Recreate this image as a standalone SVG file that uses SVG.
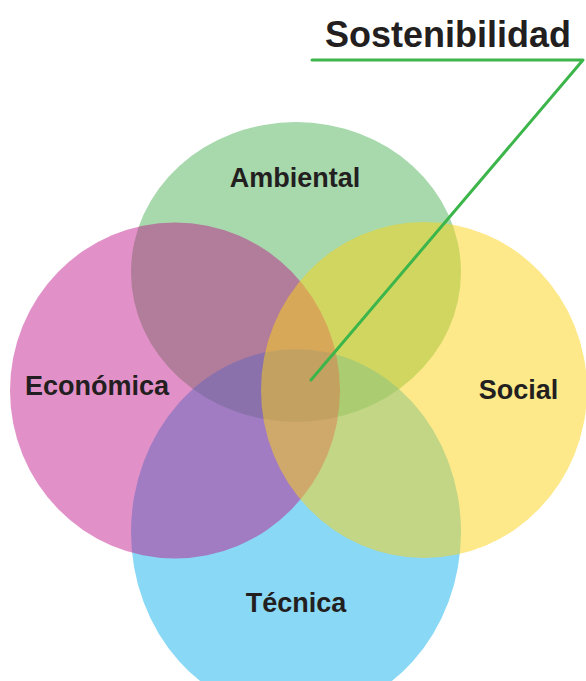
<svg xmlns="http://www.w3.org/2000/svg" width="586" height="681" viewBox="0 0 586 681">
<style>
.lbl{font-family:"Liberation Sans",Arial,sans-serif;font-weight:bold;font-size:27px;fill:#231f20;text-anchor:middle}
.title{font-family:"Liberation Sans",Arial,sans-serif;font-weight:bold;font-size:37px;fill:#231f20}
.conn{fill:none;stroke:#3cb54a;stroke-width:3;stroke-linecap:round;stroke-linejoin:round}
</style>
<rect width="586" height="681" fill="#ffffff"/>
<g id="ambiental"><ellipse cx="296" cy="272" rx="165" ry="150" fill="#a7d9ad"/></g>
<g id="tecnica"><ellipse cx="296" cy="532" rx="165" ry="183" fill="#13b1eb" fill-opacity="0.5"/></g>
<g id="economica"><ellipse cx="175" cy="390.5" rx="165" ry="168" fill="#c01087" fill-opacity="0.46"/></g>
<g id="social"><ellipse cx="424" cy="390" rx="163" ry="168" fill="#fbd315" fill-opacity="0.5"/></g>
<g id="labels">
<text class="lbl" x="295" y="187">Ambiental</text>
<text class="lbl" x="97" y="395">Económica</text>
<text class="lbl" x="518.5" y="399">Social</text>
<text class="lbl" x="296" y="612">Técnica</text>
</g>
<g id="sostenibilidad"><text class="title" x="325" y="47" textLength="246" lengthAdjust="spacingAndGlyphs">Sostenibilidad</text></g>
<g id="connectors"><polyline class="conn" points="312,60 583,60 311,380"/></g>
</svg>
